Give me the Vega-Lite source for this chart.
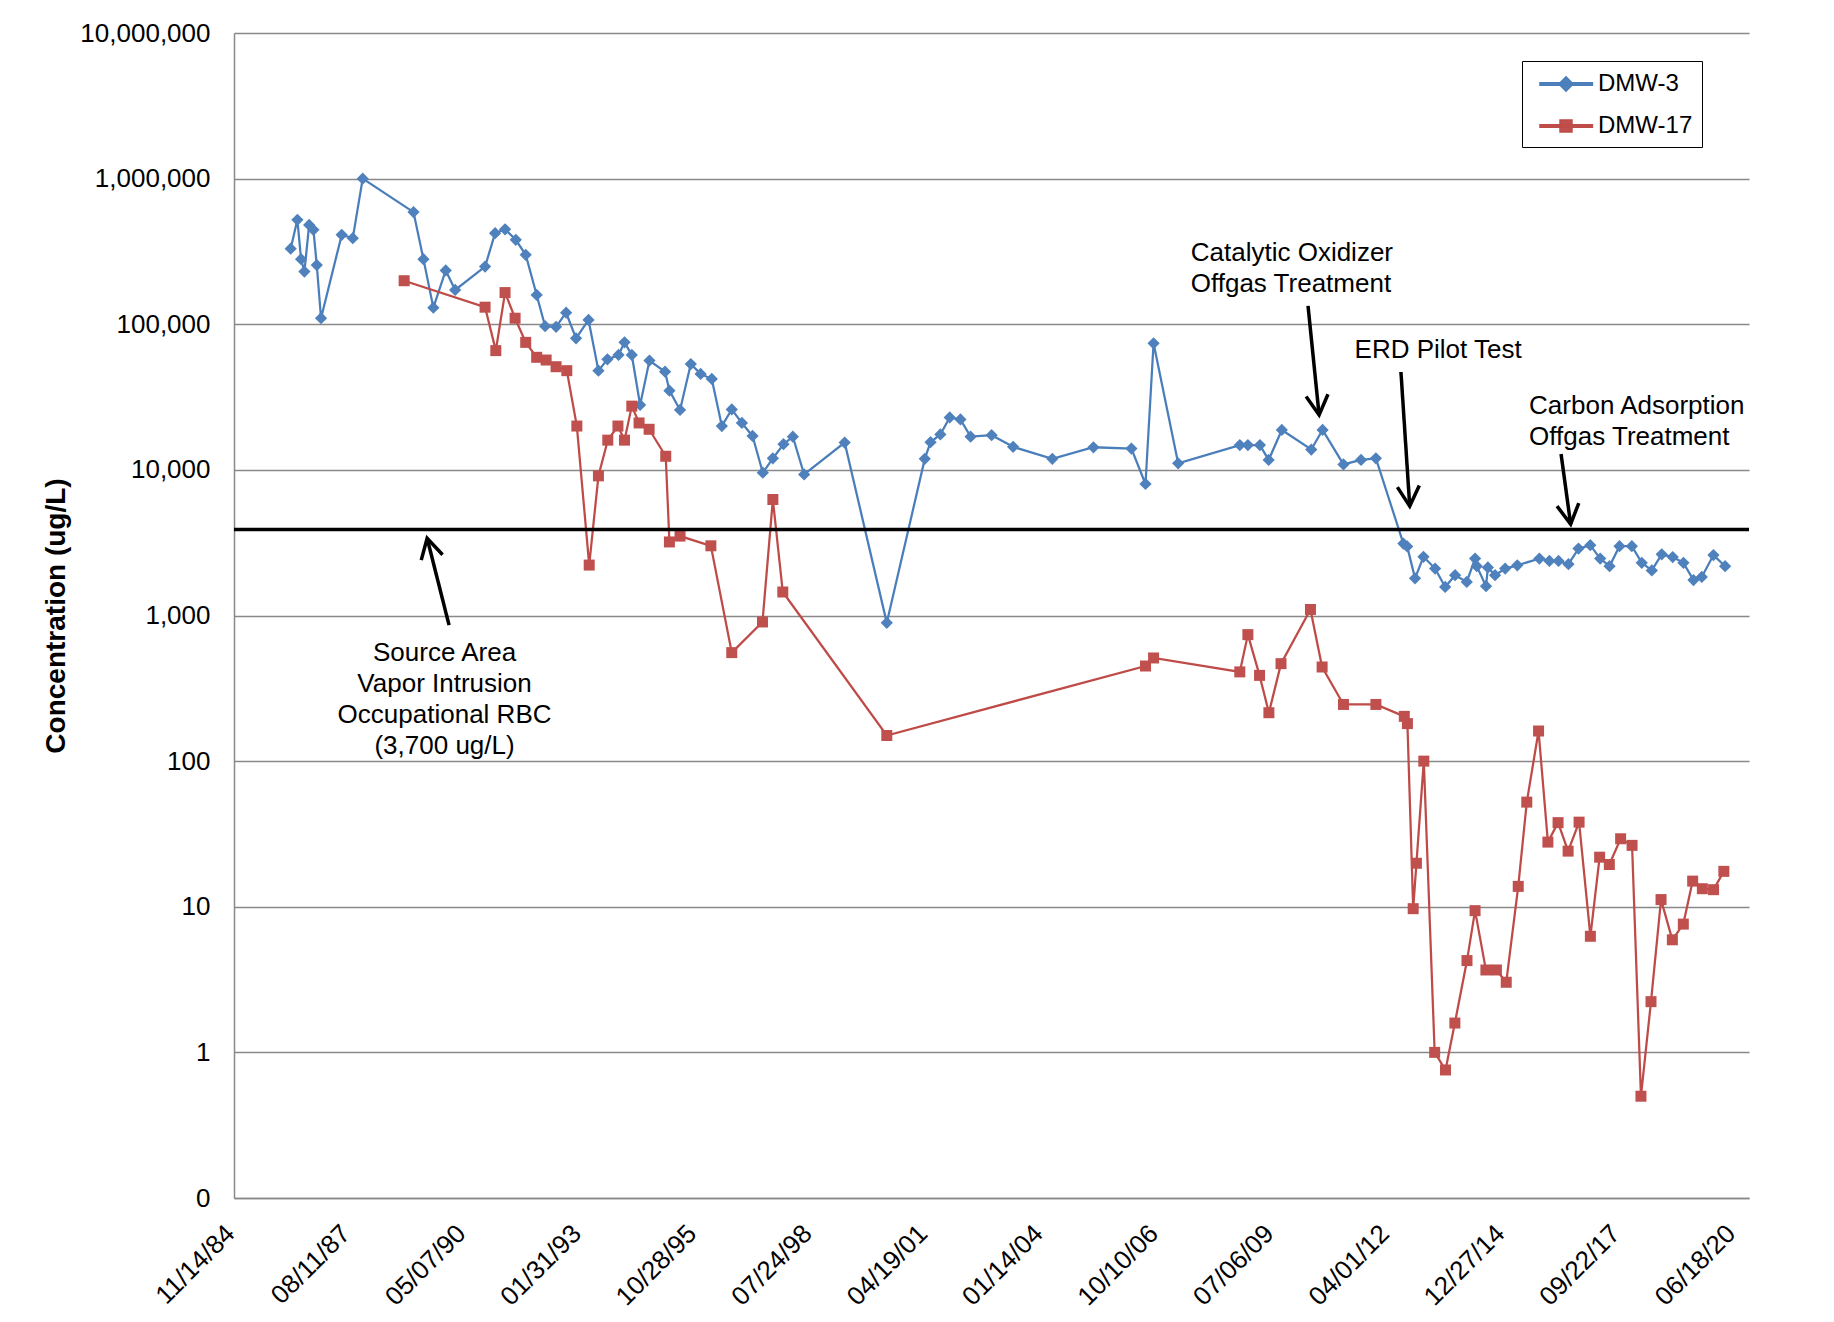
{
  "$schema": "https://vega.github.io/schema/vega-lite/v6.json",
  "width": 1515,
  "height": 1165,
  "autosize": {"type": "none"},
  "padding": {"left": 234, "top": 33, "right": 85, "bottom": 124},
  "background": "white",
  "config": {
    "view": {"stroke": null},
    "font": "Liberation Sans",
    "axis": {
      "labelFont": "Liberation Sans",
      "titleFont": "Liberation Sans",
      "labelColor": "black",
      "titleColor": "black",
      "domainColor": "#898989",
      "domainWidth": 1.5,
      "gridColor": "#898989",
      "gridWidth": 1.5,
      "ticks": false,
      "tickSize": 0
    }
  },
  "datasets": {
    "series": [
      {"well": "DMW-3", "date": "1986-03-20", "value": 330000},
      {"well": "DMW-3", "date": "1986-05-17", "value": 521000},
      {"well": "DMW-3", "date": "1986-06-18", "value": 280000},
      {"well": "DMW-3", "date": "1986-07-17", "value": 230000},
      {"well": "DMW-3", "date": "1986-08-27", "value": 481000},
      {"well": "DMW-3", "date": "1986-10-03", "value": 445000},
      {"well": "DMW-3", "date": "1986-11-01", "value": 255000},
      {"well": "DMW-3", "date": "1986-12-08", "value": 110000},
      {"well": "DMW-3", "date": "1987-06-05", "value": 411000},
      {"well": "DMW-3", "date": "1987-09-09", "value": 390000},
      {"well": "DMW-3", "date": "1987-12-04", "value": 1000000},
      {"well": "DMW-3", "date": "1989-02-16", "value": 589000},
      {"well": "DMW-3", "date": "1989-05-13", "value": 280000},
      {"well": "DMW-3", "date": "1989-08-07", "value": 130000},
      {"well": "DMW-3", "date": "1989-11-22", "value": 234000},
      {"well": "DMW-3", "date": "1990-02-12", "value": 172000},
      {"well": "DMW-3", "date": "1990-10-29", "value": 249000},
      {"well": "DMW-3", "date": "1991-01-24", "value": 422000},
      {"well": "DMW-3", "date": "1991-04-20", "value": 449000},
      {"well": "DMW-3", "date": "1991-07-22", "value": 380000},
      {"well": "DMW-3", "date": "1991-10-16", "value": 300000},
      {"well": "DMW-3", "date": "1992-01-19", "value": 159000},
      {"well": "DMW-3", "date": "1992-04-01", "value": 97000},
      {"well": "DMW-3", "date": "1992-07-05", "value": 96000},
      {"well": "DMW-3", "date": "1992-09-30", "value": 120000},
      {"well": "DMW-3", "date": "1992-12-25", "value": 80000},
      {"well": "DMW-3", "date": "1993-04-12", "value": 107000},
      {"well": "DMW-3", "date": "1993-07-07", "value": 48000},
      {"well": "DMW-3", "date": "1993-09-23", "value": 57400},
      {"well": "DMW-3", "date": "1993-12-28", "value": 61500},
      {"well": "DMW-3", "date": "1994-02-18", "value": 75100},
      {"well": "DMW-3", "date": "1994-04-22", "value": 61500},
      {"well": "DMW-3", "date": "1994-07-03", "value": 27900},
      {"well": "DMW-3", "date": "1994-09-22", "value": 56300},
      {"well": "DMW-3", "date": "1995-02-04", "value": 47200},
      {"well": "DMW-3", "date": "1995-03-14", "value": 35000},
      {"well": "DMW-3", "date": "1995-06-14", "value": 25800},
      {"well": "DMW-3", "date": "1995-09-15", "value": 53300},
      {"well": "DMW-3", "date": "1995-12-09", "value": 45600},
      {"well": "DMW-3", "date": "1996-03-15", "value": 42100},
      {"well": "DMW-3", "date": "1996-06-10", "value": 20000},
      {"well": "DMW-3", "date": "1996-09-04", "value": 26000},
      {"well": "DMW-3", "date": "1996-12-01", "value": 21000},
      {"well": "DMW-3", "date": "1997-03-03", "value": 17100},
      {"well": "DMW-3", "date": "1997-05-31", "value": 9560},
      {"well": "DMW-3", "date": "1997-08-26", "value": 12000},
      {"well": "DMW-3", "date": "1997-11-26", "value": 15000},
      {"well": "DMW-3", "date": "1998-02-15", "value": 16900},
      {"well": "DMW-3", "date": "1998-05-24", "value": 9300},
      {"well": "DMW-3", "date": "1999-05-10", "value": 15400},
      {"well": "DMW-3", "date": "2000-05-09", "value": 890},
      {"well": "DMW-3", "date": "2001-04-03", "value": 11900},
      {"well": "DMW-3", "date": "2001-05-23", "value": 15500},
      {"well": "DMW-3", "date": "2001-08-16", "value": 17500},
      {"well": "DMW-3", "date": "2001-11-05", "value": 22900},
      {"well": "DMW-3", "date": "2002-02-06", "value": 22200},
      {"well": "DMW-3", "date": "2002-05-05", "value": 16900},
      {"well": "DMW-3", "date": "2002-11-03", "value": 17300},
      {"well": "DMW-3", "date": "2003-05-08", "value": 14400},
      {"well": "DMW-3", "date": "2004-04-12", "value": 11900},
      {"well": "DMW-3", "date": "2005-04-03", "value": 14300},
      {"well": "DMW-3", "date": "2006-02-26", "value": 14000},
      {"well": "DMW-3", "date": "2006-06-28", "value": 8000},
      {"well": "DMW-3", "date": "2006-09-06", "value": 74000},
      {"well": "DMW-3", "date": "2007-04-07", "value": 11100},
      {"well": "DMW-3", "date": "2008-09-22", "value": 14800},
      {"well": "DMW-3", "date": "2008-12-01", "value": 14800},
      {"well": "DMW-3", "date": "2009-03-15", "value": 14800},
      {"well": "DMW-3", "date": "2009-05-30", "value": 11700},
      {"well": "DMW-3", "date": "2009-09-21", "value": 18800},
      {"well": "DMW-3", "date": "2010-06-03", "value": 13800},
      {"well": "DMW-3", "date": "2010-09-09", "value": 18800},
      {"well": "DMW-3", "date": "2011-03-09", "value": 10900},
      {"well": "DMW-3", "date": "2011-08-08", "value": 11700},
      {"well": "DMW-3", "date": "2011-12-15", "value": 12000},
      {"well": "DMW-3", "date": "2012-08-09", "value": 3120},
      {"well": "DMW-3", "date": "2012-09-11", "value": 2980},
      {"well": "DMW-3", "date": "2012-11-18", "value": 1800},
      {"well": "DMW-3", "date": "2013-01-30", "value": 2530},
      {"well": "DMW-3", "date": "2013-05-11", "value": 2100},
      {"well": "DMW-3", "date": "2013-08-06", "value": 1570},
      {"well": "DMW-3", "date": "2013-10-31", "value": 1890},
      {"well": "DMW-3", "date": "2014-02-09", "value": 1700},
      {"well": "DMW-3", "date": "2014-04-22", "value": 2460},
      {"well": "DMW-3", "date": "2014-05-07", "value": 2180},
      {"well": "DMW-3", "date": "2014-07-26", "value": 1590},
      {"well": "DMW-3", "date": "2014-08-11", "value": 2140},
      {"well": "DMW-3", "date": "2014-10-12", "value": 1890},
      {"well": "DMW-3", "date": "2015-01-08", "value": 2100},
      {"well": "DMW-3", "date": "2015-04-23", "value": 2210},
      {"well": "DMW-3", "date": "2015-10-31", "value": 2460},
      {"well": "DMW-3", "date": "2016-01-26", "value": 2370},
      {"well": "DMW-3", "date": "2016-04-14", "value": 2370},
      {"well": "DMW-3", "date": "2016-07-09", "value": 2250},
      {"well": "DMW-3", "date": "2016-10-04", "value": 2880},
      {"well": "DMW-3", "date": "2017-01-14", "value": 3040},
      {"well": "DMW-3", "date": "2017-04-10", "value": 2460},
      {"well": "DMW-3", "date": "2017-06-30", "value": 2180},
      {"well": "DMW-3", "date": "2017-09-24", "value": 2990},
      {"well": "DMW-3", "date": "2018-01-09", "value": 2990},
      {"well": "DMW-3", "date": "2018-04-05", "value": 2300},
      {"well": "DMW-3", "date": "2018-07-01", "value": 2040},
      {"well": "DMW-3", "date": "2018-09-25", "value": 2630},
      {"well": "DMW-3", "date": "2018-12-29", "value": 2520},
      {"well": "DMW-3", "date": "2019-04-01", "value": 2300},
      {"well": "DMW-3", "date": "2019-06-27", "value": 1750},
      {"well": "DMW-3", "date": "2019-09-07", "value": 1840},
      {"well": "DMW-3", "date": "2019-12-17", "value": 2600},
      {"well": "DMW-3", "date": "2020-03-27", "value": 2180},
      {"well": "DMW-17", "date": "1988-11-27", "value": 199000},
      {"well": "DMW-17", "date": "1990-10-29", "value": 131000},
      {"well": "DMW-17", "date": "1991-01-30", "value": 65900},
      {"well": "DMW-17", "date": "1991-04-20", "value": 165000},
      {"well": "DMW-17", "date": "1991-07-16", "value": 110000},
      {"well": "DMW-17", "date": "1991-10-16", "value": 75100},
      {"well": "DMW-17", "date": "1992-01-19", "value": 59300},
      {"well": "DMW-17", "date": "1992-04-10", "value": 56800},
      {"well": "DMW-17", "date": "1992-07-05", "value": 51100},
      {"well": "DMW-17", "date": "1992-10-06", "value": 48000},
      {"well": "DMW-17", "date": "1993-01-01", "value": 20000},
      {"well": "DMW-17", "date": "1993-04-18", "value": 2220},
      {"well": "DMW-17", "date": "1993-07-07", "value": 9100},
      {"well": "DMW-17", "date": "1993-09-26", "value": 16000},
      {"well": "DMW-17", "date": "1993-12-23", "value": 20000},
      {"well": "DMW-17", "date": "1994-02-18", "value": 16000},
      {"well": "DMW-17", "date": "1994-04-22", "value": 27400},
      {"well": "DMW-17", "date": "1994-06-24", "value": 21000},
      {"well": "DMW-17", "date": "1994-09-19", "value": 19000},
      {"well": "DMW-17", "date": "1995-02-10", "value": 12400},
      {"well": "DMW-17", "date": "1995-03-14", "value": 3200},
      {"well": "DMW-17", "date": "1995-06-14", "value": 3510},
      {"well": "DMW-17", "date": "1996-03-07", "value": 3010},
      {"well": "DMW-17", "date": "1996-09-04", "value": 556},
      {"well": "DMW-17", "date": "1997-05-28", "value": 903},
      {"well": "DMW-17", "date": "1997-08-26", "value": 6260},
      {"well": "DMW-17", "date": "1997-11-20", "value": 1450},
      {"well": "DMW-17", "date": "2000-05-09", "value": 150},
      {"well": "DMW-17", "date": "2006-06-28", "value": 450},
      {"well": "DMW-17", "date": "2006-09-06", "value": 511},
      {"well": "DMW-17", "date": "2008-09-22", "value": 410},
      {"well": "DMW-17", "date": "2008-12-01", "value": 739},
      {"well": "DMW-17", "date": "2009-03-12", "value": 388},
      {"well": "DMW-17", "date": "2009-06-01", "value": 215},
      {"well": "DMW-17", "date": "2009-09-14", "value": 467},
      {"well": "DMW-17", "date": "2010-05-27", "value": 1100},
      {"well": "DMW-17", "date": "2010-09-05", "value": 443},
      {"well": "DMW-17", "date": "2011-03-09", "value": 245},
      {"well": "DMW-17", "date": "2011-12-15", "value": 245},
      {"well": "DMW-17", "date": "2012-08-17", "value": 203},
      {"well": "DMW-17", "date": "2012-09-13", "value": 181},
      {"well": "DMW-17", "date": "2012-11-02", "value": 9.7},
      {"well": "DMW-17", "date": "2012-11-30", "value": 19.9},
      {"well": "DMW-17", "date": "2013-02-02", "value": 100},
      {"well": "DMW-17", "date": "2013-05-07", "value": 1},
      {"well": "DMW-17", "date": "2013-08-09", "value": 0.757},
      {"well": "DMW-17", "date": "2013-10-29", "value": 1.59},
      {"well": "DMW-17", "date": "2014-02-11", "value": 4.27},
      {"well": "DMW-17", "date": "2014-04-22", "value": 9.4},
      {"well": "DMW-17", "date": "2014-07-25", "value": 3.68},
      {"well": "DMW-17", "date": "2014-10-24", "value": 3.68},
      {"well": "DMW-17", "date": "2015-01-17", "value": 3.03},
      {"well": "DMW-17", "date": "2015-05-01", "value": 13.8},
      {"well": "DMW-17", "date": "2015-07-14", "value": 52.3},
      {"well": "DMW-17", "date": "2015-10-24", "value": 161},
      {"well": "DMW-17", "date": "2016-01-13", "value": 27.8},
      {"well": "DMW-17", "date": "2016-04-10", "value": 37.8},
      {"well": "DMW-17", "date": "2016-07-06", "value": 24.1},
      {"well": "DMW-17", "date": "2016-10-09", "value": 38.1},
      {"well": "DMW-17", "date": "2017-01-15", "value": 6.27},
      {"well": "DMW-17", "date": "2017-04-05", "value": 21.9},
      {"well": "DMW-17", "date": "2017-06-28", "value": 19.5},
      {"well": "DMW-17", "date": "2017-10-04", "value": 29.3},
      {"well": "DMW-17", "date": "2018-01-11", "value": 26.4},
      {"well": "DMW-17", "date": "2018-03-29", "value": 0.5},
      {"well": "DMW-17", "date": "2018-06-24", "value": 2.23},
      {"well": "DMW-17", "date": "2018-09-19", "value": 11.2},
      {"well": "DMW-17", "date": "2018-12-26", "value": 5.93},
      {"well": "DMW-17", "date": "2019-03-31", "value": 7.6},
      {"well": "DMW-17", "date": "2019-06-20", "value": 15},
      {"well": "DMW-17", "date": "2019-09-12", "value": 13.3},
      {"well": "DMW-17", "date": "2019-12-18", "value": 13.1},
      {"well": "DMW-17", "date": "2020-03-16", "value": 17.5}
    ],
    "arrows": [
      {"name": "source", "tail_date": "1989-12-21", "tail_value": 858, "tip_date": "1989-06-14", "tip_value": 3394},
      {"name": "catalytic", "tail_date": "2010-05-06", "tail_value": 133600, "tip_date": "2010-08-10", "tip_value": 23800},
      {"name": "erd", "tail_date": "2012-07-19", "tail_value": 47000, "tip_date": "2012-10-03", "tip_value": 5640},
      {"name": "carbon", "tail_date": "2016-05-06", "tail_value": 12840, "tip_date": "2016-07-28", "tip_value": 4238}
    ],
    "notes": [
      {"name": "source", "date": "1989-11-12", "value": 553, "text": ["Source Area", "Vapor Intrusion", "Occupational RBC", "(3,700 ug/L)"]},
      {"name": "catalytic", "date": "2007-07-25", "value": 310800, "text": ["Catalytic Oxidizer", "Offgas Treatment"]},
      {"name": "erd", "date": "2011-06-13", "value": 66850, "text": ["ERD Pilot Test"]},
      {"name": "carbon", "date": "2015-08-03", "value": 27500, "text": ["Carbon Adsorption", "Offgas Treatment"]}
    ],
    "threshold": [{"value": 3900}]
  },
  "layer": [
    {
      "data": {"name": "series"},
      "mark": {"type": "line", "strokeWidth": 2.25},
      "encoding": {
        "x": {
          "field": "date", "type": "temporal", "title": null,
          "scale": {"type": "utc", "domain": [{"year": 1984, "month": 11, "date": 14, "utc": true}, {"year": 2020, "month": 10, "date": 20, "utc": true}]},
          "axis": {
            "title": null,
            "grid": false,
            "format": "%m/%d/%y",
            "labelAngle": -45,
            "labelFontSize": 26,
            "labelPadding": 22,
            "labelOffset": -13,
            "labelFlush": false,
            "labelOverlap": false,
            "labelBound": false,
            "values": [
              {"year": 1984, "month": 11, "date": 14, "utc": true},
              {"year": 1987, "month": 8, "date": 11, "utc": true},
              {"year": 1990, "month": 5, "date": 7, "utc": true},
              {"year": 1993, "month": 1, "date": 31, "utc": true},
              {"year": 1995, "month": 10, "date": 28, "utc": true},
              {"year": 1998, "month": 7, "date": 24, "utc": true},
              {"year": 2001, "month": 4, "date": 19, "utc": true},
              {"year": 2004, "month": 1, "date": 14, "utc": true},
              {"year": 2006, "month": 10, "date": 10, "utc": true},
              {"year": 2009, "month": 7, "date": 6, "utc": true},
              {"year": 2012, "month": 4, "date": 1, "utc": true},
              {"year": 2014, "month": 12, "date": 27, "utc": true},
              {"year": 2017, "month": 9, "date": 22, "utc": true},
              {"year": 2020, "month": 6, "date": 18, "utc": true}
            ]
          }
        },
        "y": {
          "field": "value", "type": "quantitative",
          "title": "Concentration (ug/L)",
          "scale": {"type": "log", "domain": [0.1, 10000000], "nice": false},
          "axis": {
            "title": "Concentration (ug/L)",
            "titleFontSize": 28,
            "titleFontWeight": "bold",
            "titlePadding": 9,
            "grid": true,
            "labelFontSize": 26,
            "labelPadding": 24,
            "labelOverlap": false,
            "labelFlush": false,
            "values": [0.1, 1, 10, 100, 1000, 10000, 100000, 1000000, 10000000],
            "labelExpr": "datum.value < 0.5 ? '0' : format(datum.value, ',')"
          }
        },
        "color": {
          "field": "well", "type": "nominal",
          "scale": {"domain": ["DMW-3", "DMW-17"], "range": ["#4A7EBB", "#BE4B48"]},
          "legend": {
            "title": null,
            "orient": "none",
            "legendX": 1288,
            "legendY": 28,
            "padding": 9,
            "labelFont": "Liberation Sans",
            "labelFontSize": 24,
            "labelColor": "black",
            "symbolSize": 676,
            "symbolOffset": 9,
            "rowPadding": 16,
            "labelOffset": 30,
            "labelLimit": 400,
            "strokeColor": "black",
            "fillColor": "white"
          }
        }
      }
    },
    {
      "data": {"name": "series"},
      "mark": {"type": "point", "filled": true, "opacity": 0},
      "encoding": {
        "x": {"field": "date", "type": "temporal", "title": null},
        "y": {"field": "value", "type": "quantitative", "title": "Concentration (ug/L)"},
        "fill": {"field": "well", "type": "nominal", "scale": {"domain": ["DMW-3", "DMW-17"], "range": ["#4F81BD", "#C0504D"]}, "legend": null},
        "shape": {"field": "well", "type": "nominal", "scale": {"domain": ["DMW-3", "DMW-17"], "range": ["M-1.077,-0.087H2.954V0.087H-1.077ZM0.923,-0.55L1.473,0L0.923,0.55L0.373,0Z", "M-1.077,-0.087H2.954V0.087H-1.077ZM0.463,-0.46H1.383V0.46H0.463Z"]}, "legend": null}
      }
    },
    {
      "data": {"name": "series"},
      "transform": [{"filter": "datum.well === 'DMW-3'"}],
      "mark": {"type": "point", "shape": "diamond", "size": 150, "filled": true, "color": "#4F81BD", "opacity": 1},
      "encoding": {
        "x": {"field": "date", "type": "temporal", "title": null},
        "y": {"field": "value", "type": "quantitative", "title": "Concentration (ug/L)"}
      }
    },
    {
      "data": {"name": "series"},
      "transform": [{"filter": "datum.well === 'DMW-17'"}],
      "mark": {"type": "point", "shape": "square", "size": 121, "filled": true, "color": "#C0504D", "opacity": 1},
      "encoding": {
        "x": {"field": "date", "type": "temporal", "title": null},
        "y": {"field": "value", "type": "quantitative", "title": "Concentration (ug/L)"}
      }
    },
    {
      "data": {"name": "threshold"},
      "mark": {"type": "rule", "color": "black", "strokeWidth": 3.5},
      "encoding": {
        "y": {"field": "value", "type": "quantitative", "title": "Concentration (ug/L)"}
      }
    },
    {
      "data": {"name": "arrows"},
      "mark": {"type": "rule", "color": "black", "strokeWidth": 3.5},
      "encoding": {
        "x": {"field": "tail_date", "type": "temporal", "title": null},
        "y": {"field": "tail_value", "type": "quantitative", "title": "Concentration (ug/L)"},
        "x2": {"field": "tip_date"},
        "y2": {"field": "tip_value"}
      }
    },
    {
      "data": {"name": "arrows"},
      "transform": [{"filter": "datum.name === 'source'"}],
      "mark": {"type": "point", "shape": "M-0.5,0.9L0,0L0.5,0.9", "size": 1936, "angle": -14, "filled": false, "stroke": "black", "strokeWidth": 3.5, "opacity": 1, "strokeJoin": "miter"},
      "encoding": {
        "x": {"field": "tip_date", "type": "temporal", "title": null},
        "y": {"field": "tip_value", "type": "quantitative", "title": "Concentration (ug/L)"}
      }
    },
    {
      "data": {"name": "arrows"},
      "transform": [{"filter": "datum.name === 'catalytic'"}],
      "mark": {"type": "point", "shape": "M-0.5,0.9L0,0L0.5,0.9", "size": 1936, "angle": 174, "filled": false, "stroke": "black", "strokeWidth": 3.5, "opacity": 1, "strokeJoin": "miter"},
      "encoding": {
        "x": {"field": "tip_date", "type": "temporal", "title": null},
        "y": {"field": "tip_value", "type": "quantitative", "title": "Concentration (ug/L)"}
      }
    },
    {
      "data": {"name": "arrows"},
      "transform": [{"filter": "datum.name === 'erd'"}],
      "mark": {"type": "point", "shape": "M-0.5,0.9L0,0L0.5,0.9", "size": 1936, "angle": 176, "filled": false, "stroke": "black", "strokeWidth": 3.5, "opacity": 1, "strokeJoin": "miter"},
      "encoding": {
        "x": {"field": "tip_date", "type": "temporal", "title": null},
        "y": {"field": "tip_value", "type": "quantitative", "title": "Concentration (ug/L)"}
      }
    },
    {
      "data": {"name": "arrows"},
      "transform": [{"filter": "datum.name === 'carbon'"}],
      "mark": {"type": "point", "shape": "M-0.5,0.9L0,0L0.5,0.9", "size": 1936, "angle": 172, "filled": false, "stroke": "black", "strokeWidth": 3.5, "opacity": 1, "strokeJoin": "miter"},
      "encoding": {
        "x": {"field": "tip_date", "type": "temporal", "title": null},
        "y": {"field": "tip_value", "type": "quantitative", "title": "Concentration (ug/L)"}
      }
    },
    {
      "data": {"name": "notes"},
      "transform": [{"filter": "datum.name === 'source'"}],
      "mark": {"type": "text", "align": "center", "baseline": "middle", "font": "Liberation Sans", "fontSize": 26, "lineHeight": 31, "color": "black"},
      "encoding": {
        "x": {"field": "date", "type": "temporal", "title": null},
        "y": {"field": "value", "type": "quantitative", "title": "Concentration (ug/L)"},
        "text": {"field": "text"}
      }
    },
    {
      "data": {"name": "notes"},
      "transform": [{"filter": "datum.name !== 'source'"}],
      "mark": {"type": "text", "align": "left", "baseline": "middle", "font": "Liberation Sans", "fontSize": 26, "lineHeight": 31, "color": "black"},
      "encoding": {
        "x": {"field": "date", "type": "temporal", "title": null},
        "y": {"field": "value", "type": "quantitative", "title": "Concentration (ug/L)"},
        "text": {"field": "text"}
      }
    }
  ]
}
